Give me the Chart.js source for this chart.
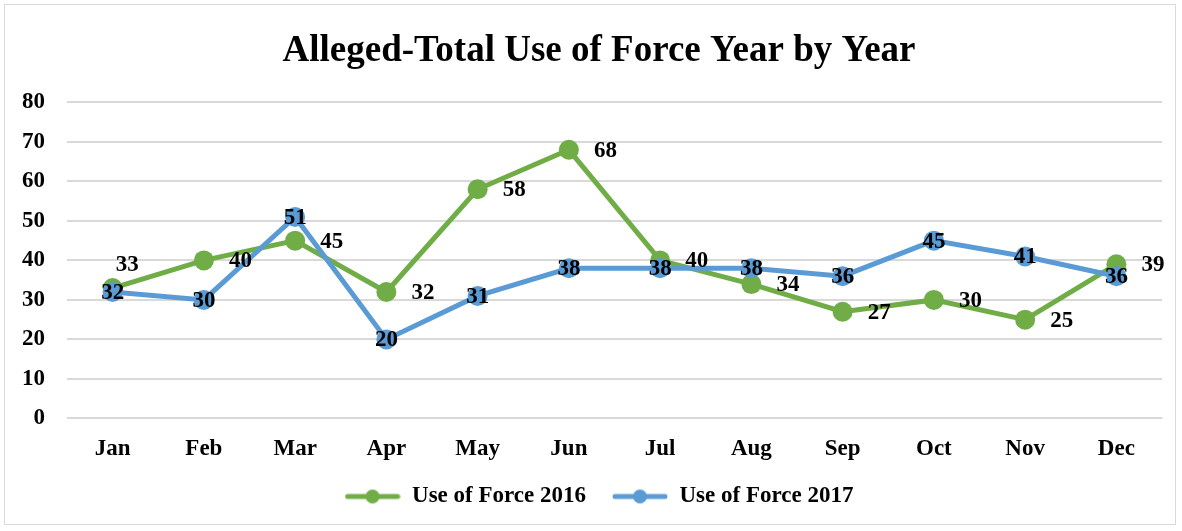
<!DOCTYPE html>
<html>
<head>
<meta charset="utf-8">
<script src="https://cdn.jsdelivr.net/npm/chart.js@4/dist/chart.umd.min.js"></script>
<style>
  html, body { margin: 0; padding: 0; background: #fff; }
  #wrap { position: absolute; left: 4px; top: 4px; width: 1172px; height: 521px; border: 1px solid #d9d9d9; box-sizing: border-box; }
  canvas { position: absolute; left: -5px; top: -5px; }
</style>
</head>
<body>
<div id="wrap"><canvas id="chart" width="1182" height="531"></canvas></div>
<script>
const months = ['Jan', 'Feb', 'Mar', 'Apr', 'May', 'Jun', 'Jul', 'Aug', 'Sep', 'Oct', 'Nov', 'Dec'];
const force2016 = [33, 40, 45, 32, 58, 68, 40, 34, 27, 30, 25, 39];
const force2017 = [32, 30, 51, 20, 31, 38, 38, 38, 36, 45, 41, 36];
const yTicks = [0, 10, 20, 30, 40, 50, 60, 70, 80];

const green = '#70AD47';
const blue = '#5B9BD5';
const serif = '"Liberation Serif", "Times New Roman", serif';

function legendMark(color) {
  const c = document.createElement('canvas');
  c.width = 56; c.height = 22;
  const ctx = c.getContext('2d');
  ctx.strokeStyle = color;
  ctx.lineWidth = 5;
  ctx.lineCap = 'round';
  ctx.beginPath();
  ctx.moveTo(3, 11); ctx.lineTo(53, 11);
  ctx.stroke();
  ctx.fillStyle = color;
  ctx.beginPath();
  ctx.arc(28, 11, 7, 0, Math.PI * 2);
  ctx.fill();
  return c;
}

// simple data label drawing (no datalabels plugin available)
const labelPlugin = {
  id: 'valueLabels',
  afterLayout(chart) {
    // let tick labels spill outside the squeezed axis boxes
    chart.scales.y.left = 0;
    chart.scales.x.bottom = chart.height;
  },
  afterDatasetsDraw(chart) {
    const ctx = chart.ctx;
    ctx.save();
    ctx.font = 'bold 23px ' + serif;
    ctx.fillStyle = '#000';
    ctx.textBaseline = 'middle';
    chart.data.datasets.forEach((ds, i) => {
      const meta = chart.getDatasetMeta(i);
      meta.data.forEach((pt, j) => {
        const v = ds.data[j];
        if (ds.labelPos === 'right') {
          ctx.textAlign = 'left';
          if (j === 0) ctx.fillText(v, pt.x + 3, pt.y - 23);
          else ctx.fillText(v, pt.x + 25, pt.y + 1);
        } else {
          ctx.textAlign = 'center';
          ctx.fillText(v, pt.x, pt.y + 1);
        }
      });
    });
    ctx.restore();
  }
};

new Chart(document.getElementById('chart'), {
  type: 'line',
  data: {
    labels: months,
    datasets: [{
      label: 'Use of Force 2016',
      data: force2016,
      borderColor: green,
      backgroundColor: green,
      borderWidth: 5,
      pointRadius: 10,
      pointHoverRadius: 10,
      pointBorderWidth: 0,
      tension: 0,
      order: 2,
      labelPos: 'right'
    }, {
      label: 'Use of Force 2017',
      data: force2017,
      borderColor: blue,
      backgroundColor: blue,
      borderWidth: 5,
      pointRadius: 10,
      pointHoverRadius: 10,
      pointBorderWidth: 0,
      tension: 0,
      order: 1,
      labelPos: 'center'
    }]
  },
  options: {
    responsive: false,
    animation: false,
    layout: { padding: { left: 36, right: 20, top: 15, bottom: 13 } },
    plugins: {
      title: {
        display: true,
        text: 'Alleged-Total Use of Force Year by Year',
        color: '#000',
        font: { family: serif, size: 37, weight: 'bold' },
        padding: { top: 14, bottom: 29 }
      },
      legend: {
        position: 'bottom',
        labels: {
          color: '#000',
          font: { family: serif, size: 23, weight: 'bold' },
          usePointStyle: true,
          pointStyleWidth: 56,
          padding: 26,
          generateLabels(chart) {
            const items = Chart.defaults.plugins.legend.labels.generateLabels(chart);
            items.forEach(it => {
              it.pointStyle = legendMark(chart.data.datasets[it.datasetIndex].borderColor);
            });
            return items.sort((a, b) => a.datasetIndex - b.datasetIndex);
          }
        }
      },
      tooltip: { enabled: false }
    },
    scales: {
      x: {
        offset: true,
        grid: { display: false },
        border: { display: true, color: '#d9d9d9', width: 1 },
        ticks: { color: '#000', font: { family: serif, size: 23, weight: 'bold' }, padding: 9 },
        afterFit(axis) { axis.height -= 13; }
      },
      y: {
        min: 0,
        max: 80,
        afterBuildTicks(axis) { axis.ticks = yTicks.map(v => ({ value: v })); },
        afterFit(axis) { axis.width = 31; },
        grid: { color: '#d9d9d9', lineWidth: 2, drawTicks: false },
        border: { display: false },
        ticks: { color: '#000', font: { family: serif, size: 23, weight: 'bold' }, padding: 22 }
      }
    }
  },
  plugins: [labelPlugin]
});
</script>
</body>
</html>
